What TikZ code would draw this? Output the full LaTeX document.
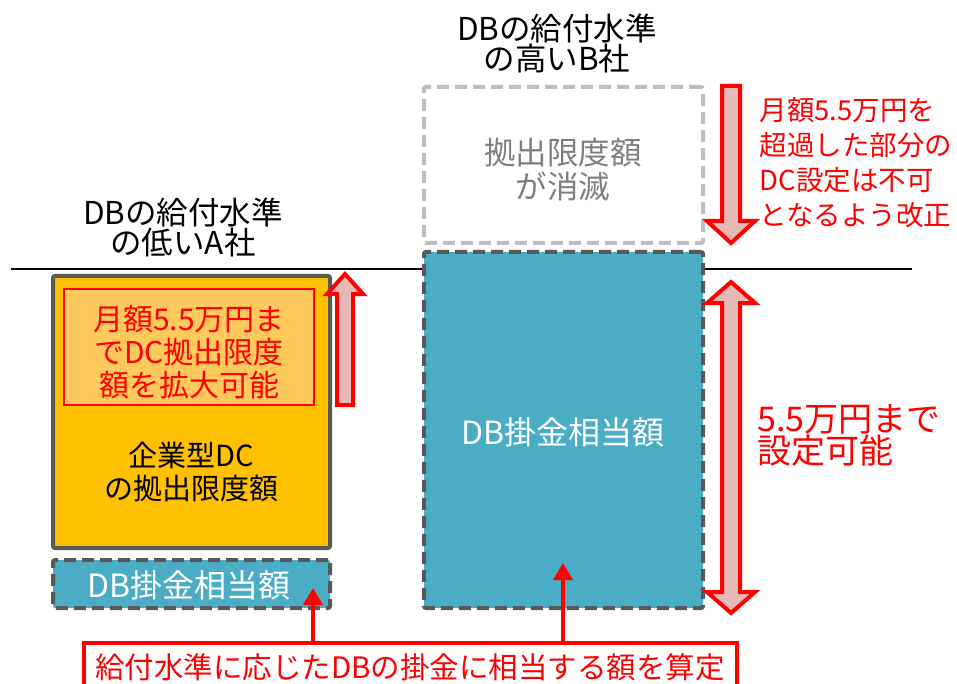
\documentclass[tikz,border=0pt]{standalone}
\usepackage{fontspec}
\setmainfont{Noto Sans CJK JP}
\usetikzlibrary{arrows.meta}
\definecolor{dgray}{HTML}{595959}
\definecolor{lgray}{HTML}{BFBFBF}
\definecolor{tgray}{HTML}{7F7F7F}
\definecolor{dcorange}{HTML}{FFC000}
\definecolor{lorange}{HTML}{FFC95C}
\definecolor{dbblue}{HTML}{4BACC6}
\definecolor{pinkfill}{HTML}{E6B9B8}
\definecolor{myred}{HTML}{FF0000}
\tikzset{
  solidbox/.style={draw=dgray, line width=4pt, fill=dcorange, rounded corners=2pt},
  dashbox/.style={draw=dgray, line width=4pt, fill=dbblue, dash pattern=on 12pt off 6pt, rounded corners=2pt},
  vanishbox/.style={draw=lgray, line width=4pt, dash pattern=on 12pt off 6pt, rounded corners=2pt},
  titletxt/.style={font=\fontsize{31.5}{30}\selectfont, align=center},
  dbtxt/.style={font=\fontsize{32}{32}\selectfont, text=white},
  midtxt/.style={font=\fontsize{30}{33}\selectfont},
  bigarrow/.style={draw=myred, fill=pinkfill, line width=4pt, miter limit=10},
  conn/.style={draw=myred, line width=4.5pt, -{Triangle[width=19pt,length=17pt]}},
}
\begin{document}
\begin{tikzpicture}[x=1pt,y=-1pt]
\useasboundingbox (0,0) rectangle (957,684);
% base line
\coordinate (lineL) at (11,269);
\coordinate (lineR) at (912,269);
\draw[line width=1.5pt] (lineL) -- (lineR);
% titles
\node[titletxt] (titleA) at (183,227) {DBの給付水準\\の低いA社};
\node[titletxt] (titleB) at (557,43) {DBの給付水準\\の高いB社};
% company A
\node[solidbox, minimum width=277pt, minimum height=272pt] (dc) at (191.5,412) {};
\node[draw=myred, line width=1.5pt, fill=lorange, minimum width=250pt, minimum height=116pt] (inner) at (189,347) {};
\node[midtxt, text=myred, align=center] (innertxt) at (189,352) {月額5.5万円ま\\でDC拠出限度\\額を拡大可能};
\node[font=\fontsize{29}{33}\selectfont, align=center] (dctxt) at (191,472) {企業型DC\\の拠出限度額};
\node[dashbox, minimum width=277pt, minimum height=48pt] (dbA) at (191.5,584) {};
\node[dbtxt] (dbAtxt) at (189,585) {DB掛金相当額};
% company B
\node[vanishbox, minimum width=279pt, minimum height=156pt] (vanish) at (563.5,165) {};
\node[font=\fontsize{31.5}{34}\selectfont, text=tgray, align=center] (vanishtxt) at (563,170) {拠出限度額\\が消滅};
\node[dashbox, minimum width=279pt, minimum height=356pt] (dbB) at (563.5,430) {};
\node[dbtxt] (dbBtxt) at (563,432) {DB掛金相当額};
% big arrows
\draw[bigarrow] (337,405) -- (337,294) -- (327,294) -- (345,274) -- (363,294) -- (353,294) -- (353,405) -- cycle;
\draw[bigarrow] (722,86) -- (740,86) -- (740,221) -- (755,221) -- (731,243) -- (707,221) -- (722,221) -- cycle;
\draw[bigarrow] (731,282) -- (755,303) -- (740,303) -- (740,592) -- (755,592) -- (731,613) -- (707,592) -- (722,592) -- (722,303) -- (707,303) -- cycle;
% right texts
\node[font=\fontsize{27.5}{35}\selectfont, text=myred, align=left, anchor=west] (ruletxt) at (756,163) {月額5.5万円を\\超過した部分の\\DC設定は不可\\となるよう改正};
\node[font=\fontsize{34}{32}\selectfont, text=myred, align=left, anchor=west] (settxt) at (754,435) {5.5万円まで\\設定可能};
% bottom note
\node[draw=myred, line width=4pt, fill=white, minimum width=653pt, minimum height=52pt] (note) at (410.5,669) {};
\node[font=\fontsize{29.5}{30}\selectfont, text=myred] (notetxt) at (410,667) {給付水準に応じたDBの掛金に相当する額を算定};
\coordinate (tipA) at (313,588);
\coordinate (tipB) at (563,563);
\draw[conn] (note.north -| tipA) -- (tipA);
\draw[conn] (note.north -| tipB) -- (tipB);
\end{tikzpicture}
\end{document}
